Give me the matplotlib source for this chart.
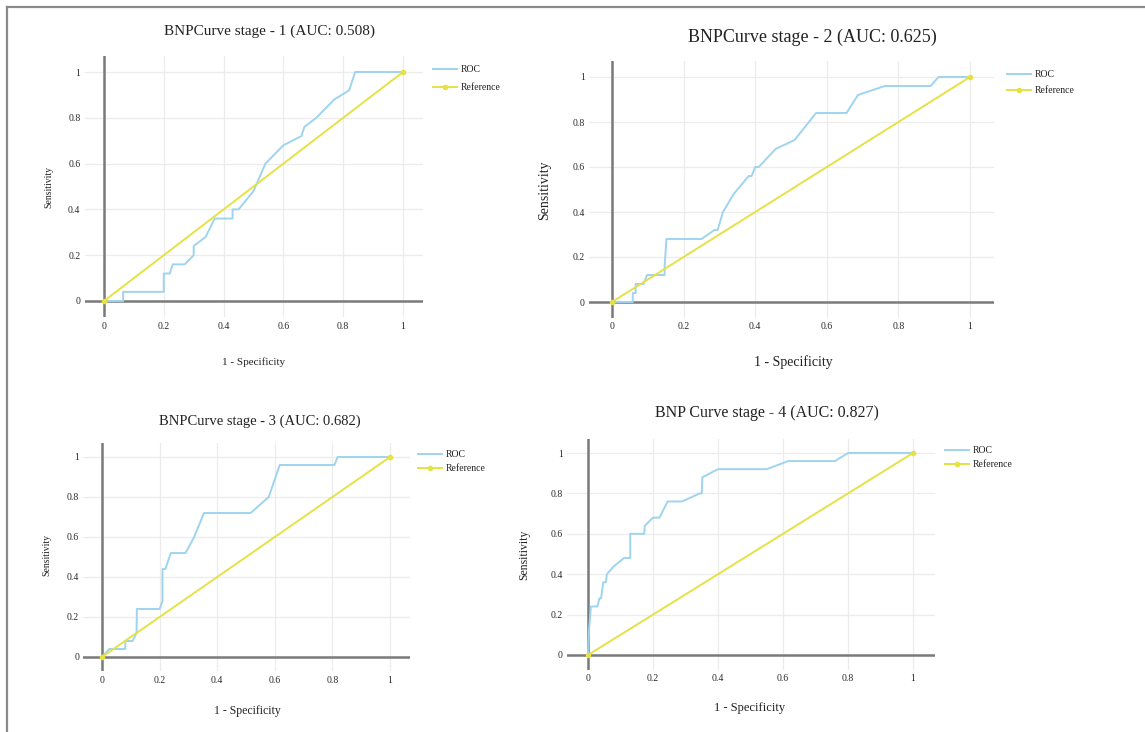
import matplotlib
matplotlib.use("Agg")
import matplotlib.pyplot as plt

W, H = 1145, 732

# ROC points (1 - specificity, sensitivity)
fpr1 = [0, 0.064, 0.064, 0.2, 0.2, 0.22, 0.23, 0.27, 0.30, 0.30, 0.34, 0.37, 0.43, 0.43, 0.45,
        0.50, 0.54, 0.60, 0.66, 0.67, 0.71, 0.77, 0.82, 0.84, 1.0]
tpr1 = [0, 0, 0.04, 0.04, 0.12, 0.12, 0.16, 0.16, 0.20, 0.24, 0.28, 0.36, 0.36, 0.40, 0.40,
        0.48, 0.60, 0.68, 0.72, 0.76, 0.80, 0.88, 0.92, 1.0, 1.0]

fpr2 = [0, 0.058, 0.058, 0.066, 0.066, 0.088, 0.098, 0.147, 0.147, 0.152, 0.25, 0.286, 0.295,
        0.31, 0.34, 0.382, 0.39, 0.40, 0.41, 0.457, 0.51, 0.57, 0.655, 0.687, 0.762, 0.89, 0.912, 1.0]
tpr2 = [0, 0, 0.04, 0.04, 0.08, 0.08, 0.12, 0.12, 0.16, 0.28, 0.28, 0.32, 0.32,
        0.40, 0.48, 0.56, 0.56, 0.60, 0.60, 0.68, 0.72, 0.84, 0.84, 0.92, 0.96, 0.96, 1.0, 1.0]

fpr3 = [0, 0.025, 0.081, 0.081, 0.106, 0.12, 0.121, 0.2, 0.21, 0.21, 0.22, 0.239, 0.29, 0.32,
        0.354, 0.516, 0.579, 0.617, 0.807, 0.818, 1.0]
tpr3 = [0, 0.04, 0.04, 0.08, 0.08, 0.12, 0.24, 0.24, 0.28, 0.44, 0.44, 0.52, 0.52, 0.60,
        0.72, 0.72, 0.80, 0.96, 0.96, 1.0, 1.0]

fpr4 = [0, 0.003, 0.009, 0.029, 0.035, 0.04, 0.047, 0.055, 0.058, 0.08, 0.111, 0.13, 0.13, 0.173,
        0.175, 0.2, 0.22, 0.245, 0.289, 0.344, 0.35, 0.352, 0.4, 0.55, 0.616, 0.76, 0.8, 1.0]
tpr4 = [0, 0.12, 0.24, 0.24, 0.28, 0.28, 0.36, 0.36, 0.40, 0.44, 0.48, 0.48, 0.60, 0.60,
        0.64, 0.68, 0.68, 0.76, 0.76, 0.80, 0.80, 0.88, 0.92, 0.92, 0.96, 0.96, 1.0, 1.0]

ref_x = [0, 1]
ref_y = [0, 1]

titles = ["BNPCurve stage - 1 (AUC: 0.508)", "BNPCurve stage - 2 (AUC: 0.625)",
          "BNPCurve stage - 3 (AUC: 0.682)", "BNP Curve stage - 4 (AUC: 0.827)"]
ticks = [0, 0.2, 0.4, 0.6, 0.8, 1]
tick_labels = ["0", "0.2", "0.4", "0.6", "0.8", "1"]

plt.rcParams['font.family'] = ['Liberation Serif', 'DejaVu Serif']

XL = (-0.065, 1.068)
YL = (-0.072, 1.07)

# panel layout in pixels: data 0 / data 1 on x, data 0 / data 1 on y
panels = [
    dict(x0=104, x1=403, y0=301, y1=72, title=(270, 31, 11), ylab=(49, 187, 7),
         xlab=(254, 362, 8), leg=(433, 71, 90)),
    dict(x0=612, x1=970, y0=302, y1=77, title=(812, 37, 13), ylab=(545, 190, 10),
         xlab=(793, 362, 10), leg=(1007, 76, 93)),
    dict(x0=102, x1=390, y0=657, y1=457, title=(260, 421, 10.5), ylab=(47, 555, 7),
         xlab=(247, 711, 8.5), leg=(418, 456, 471)),
    dict(x0=588, x1=913, y0=655, y1=453, title=(767, 413, 11.5), ylab=(524, 555, 8.5),
         xlab=(750, 708, 9), leg=(945, 452, 467)),
]
data = [(fpr1, tpr1), (fpr2, tpr2), (fpr3, tpr3), (fpr4, tpr4)]

fig = plt.figure(figsize=(W / 100, H / 100), dpi=100)
leg_fs = 7
leg_px = leg_fs * 100 / 72

for p, (fx, ty), title in zip(panels, data, titles):
    ux = p['x1'] - p['x0']
    uy = p['y0'] - p['y1']
    left = p['x0'] + XL[0] * ux
    right = p['x0'] + XL[1] * ux
    bottom = p['y0'] - YL[0] * uy
    top = p['y0'] - YL[1] * uy
    ax = fig.add_axes([left / W, 1 - bottom / H, (right - left) / W, (bottom - top) / H])
    ax.set_xlim(*XL)
    ax.set_ylim(*YL)
    for s in ax.spines.values():
        s.set_visible(False)
    ax.set_xticks(ticks)
    ax.set_yticks(ticks)
    ax.set_xticklabels(tick_labels)
    ax.set_yticklabels(tick_labels)
    ax.tick_params(length=0, labelsize=7, labelcolor='#2a2a2a', pad=3)
    ax.grid(True, color='#ececec', linewidth=0.9)
    ax.set_axisbelow(True)
    ax.axhline(0, color='#7a7a7a', linewidth=1.8, zorder=1)
    ax.axvline(0, color='#7a7a7a', linewidth=1.8, zorder=1)
    ax.plot(fx, ty, color='#9fd4ef', linewidth=1.4, label='ROC', zorder=3)
    ax.plot(ref_x, ref_y, color='#e4e244', linewidth=1.4, marker='o', markersize=3,
            label='Reference', zorder=3)

    tx, tyy, ts = p['title']
    fig.text(tx / W, 1 - tyy / H, title, ha='center', va='center', fontsize=ts, color='#222222')
    lx, ly, ls = p['ylab']
    fig.text(lx / W, 1 - ly / H, 'Sensitivity', ha='center', va='center', rotation=90,
             fontsize=ls, color='#222222')
    xx, xy, xs = p['xlab']
    fig.text(xx / W, 1 - xy / H, '1 - Specificity', ha='center', va='center', fontsize=xs,
             color='#222222')
    gx, r1, r2 = p['leg']
    gap = (r2 - r1 - leg_px) / leg_px
    ax.legend(loc='upper left', bbox_to_anchor=(gx / W, 1 - (r1 - leg_px / 2 - 1) / H),
              bbox_transform=fig.transFigure, frameon=False, fontsize=leg_fs,
              handlelength=2.5, handletextpad=0.35, labelspacing=gap, borderpad=0,
              borderaxespad=0, numpoints=1, labelcolor='#222222')

# page frame: top and left edges
fig.add_artist(plt.Line2D([7 / W, 1], [1 - 7 / H, 1 - 7 / H], color='#8a8a8a', linewidth=1.6))
fig.add_artist(plt.Line2D([7 / W, 7 / W], [0, 1 - 7 / H], color='#8a8a8a', linewidth=1.6))

fig.savefig('out.png', dpi=100)
